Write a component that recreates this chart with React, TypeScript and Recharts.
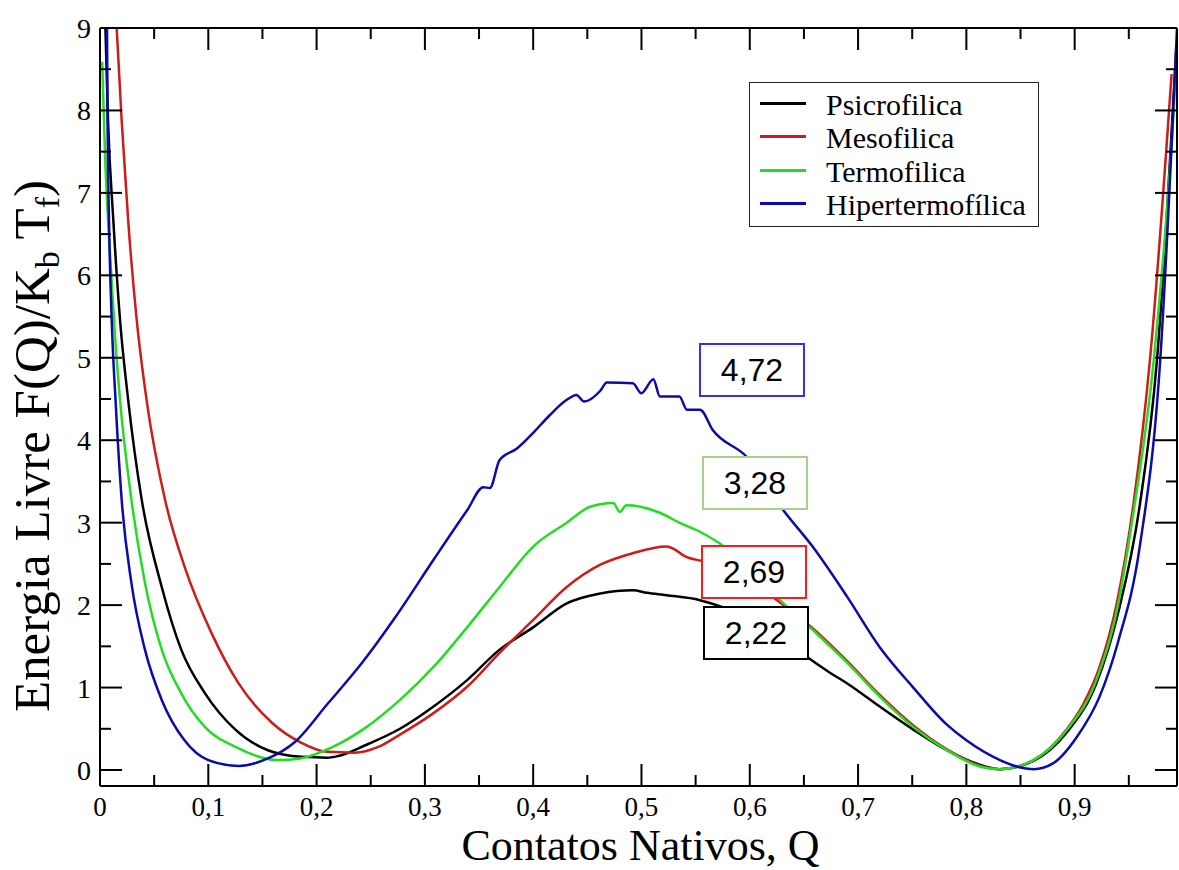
import React from 'react';
import { LineChart, Line, XAxis, YAxis } from 'recharts';

// [Q, F(Q)/KbTf]
const psicrofilica = [
  [0.005, 9.0], [0.0074, 7.88], [0.0123, 6.67], [0.0185, 5.46], [0.026, 4.49], [0.0385, 3.28],
  [0.057, 2.22], [0.075, 1.46], [0.097, 0.93], [0.125, 0.49], [0.155, 0.24], [0.186, 0.16],
  [0.21, 0.15], [0.22, 0.17], [0.245, 0.3], [0.277, 0.5], [0.308, 0.77], [0.339, 1.09],
  [0.369, 1.46], [0.4, 1.73], [0.431, 2.02], [0.462, 2.14], [0.492, 2.18], [0.505, 2.15],
  [0.523, 2.12], [0.554, 2.06], [0.58, 1.95], [0.62, 1.7], [0.653, 1.37], [0.674, 1.18],
  [0.69, 1.05], [0.72, 0.77], [0.751, 0.49], [0.782, 0.24], [0.813, 0.06], [0.831, 0.01],
  [0.862, 0.11], [0.893, 0.46], [0.92, 1.05], [0.94, 1.9], [0.96, 3.2], [0.976, 4.97], [0.994, 8.8],
];

const mesofilica = [
  [0.0154, 9.0], [0.02, 7.88], [0.026, 6.67], [0.0339, 5.46], [0.043, 4.49], [0.06, 3.28],
  [0.078, 2.47], [0.103, 1.66], [0.128, 1.05], [0.159, 0.57], [0.186, 0.33], [0.21, 0.22],
  [0.235, 0.21], [0.257, 0.28], [0.277, 0.43], [0.308, 0.69],
  [0.339, 1.01], [0.369, 1.42], [0.4, 1.82], [0.431, 2.22], [0.462, 2.49], [0.492, 2.63],
  [0.523, 2.71], [0.53, 2.68], [0.539, 2.6], [0.56, 2.52], [0.58, 2.4], [0.6, 2.28],
  [0.621, 2.1], [0.658, 1.72], [0.69, 1.32], [0.72, 0.91], [0.751, 0.54], [0.782, 0.25],
  [0.813, 0.05], [0.831, 0.01], [0.862, 0.12], [0.893, 0.5], [0.908, 0.8], [0.923, 1.25],
  [0.939, 2.03], [0.954, 3.2], [0.9695, 4.97], [0.9895, 8.44],
];

const termofilica = [
  [0.002, 8.59], [0.0046, 7.48], [0.0092, 6.27], [0.0139, 5.26], [0.0185, 4.49], [0.029, 3.28],
  [0.0415, 2.27], [0.057, 1.46], [0.075, 0.93], [0.097, 0.52], [0.125, 0.28], [0.165, 0.12],
  [0.185, 0.14], [0.215, 0.28], [0.246, 0.52],
  [0.277, 0.85], [0.308, 1.25], [0.339, 1.73], [0.369, 2.22], [0.4, 2.71], [0.431, 3.0],
  [0.452, 3.19], [0.474, 3.24], [0.48, 3.13], [0.486, 3.21], [0.517, 3.12], [0.535, 3.0],
  [0.554, 2.89], [0.572, 2.75], [0.6, 2.45], [0.628, 2.06], [0.658, 1.7], [0.69, 1.3],
  [0.72, 0.89], [0.751, 0.52], [0.782, 0.24], [0.813, 0.04], [0.831, 0.01], [0.862, 0.12],
  [0.893, 0.49], [0.92, 1.09], [0.94, 2.0], [0.954, 3.1], [0.973, 4.97], [0.991, 7.9], [0.994, 8.6],
];

const hipertermofilica = [
  [0.0065, 9.0], [0.007, 7.88], [0.0083, 6.67], [0.0108, 5.46], [0.0145, 4.45], [0.02, 3.28],
  [0.029, 2.27], [0.0415, 1.46], [0.057, 0.85], [0.078, 0.36], [0.1, 0.12], [0.128, 0.05],
  [0.155, 0.14], [0.18, 0.34], [0.21, 0.8], [0.242, 1.3], [0.272, 1.84], [0.308, 2.55],
  [0.339, 3.15], [0.354, 3.43], [0.36, 3.42], [0.369, 3.76], [0.385, 3.9], [0.4, 4.09],
  [0.415, 4.3], [0.431, 4.49], [0.44, 4.55], [0.447, 4.47], [0.462, 4.6], [0.468, 4.7],
  [0.492, 4.69], [0.5, 4.57], [0.511, 4.74], [0.517, 4.53], [0.535, 4.53], [0.542, 4.37],
  [0.554, 4.37], [0.566, 4.12], [0.597, 3.8], [0.631, 3.15], [0.658, 2.71], [0.69, 2.1],
  [0.72, 1.49], [0.751, 1.0], [0.782, 0.55], [0.8, 0.36], [0.831, 0.12], [0.85, 0.03],
  [0.862, 0.01], [0.88, 0.08], [0.902, 0.4], [0.923, 0.89], [0.94, 1.55], [0.96, 2.7],
  [0.979, 4.97], [0.9945, 9.0],
];

const seriesNames = ['Psicrofilica', 'Mesofilica', 'Termofilica', 'Hipertermofílica'];
const seriesColors = ['#000000', '#cc1c1c', '#22dd22', '#0b0baa'];
const seriesPoints = [psicrofilica, mesofilica, termofilica, hipertermofilica];

const barrierLabels = ['4,72', '3,28', '2,69', '2,22'];

const xTicks = [0, 0.05, 0.1, 0.15, 0.2, 0.25, 0.3, 0.35, 0.4, 0.45, 0.5, 0.55, 0.6, 0.65, 0.7, 0.75, 0.8, 0.85, 0.9, 0.95];
const yTicks = [0, 0.5, 1, 1.5, 2, 2.5, 3, 3.5, 4, 4.5, 5, 5.5, 6, 6.5, 7, 7.5, 8, 8.5, 9];

const serif = "'Liberation Serif', 'Times New Roman', serif";
const sans = "'Liberation Sans', Arial, sans-serif";

const isMajorX = (v: number) => Math.round(v * 100) % 10 === 0;
const isMajorY = (v: number) => Number.isInteger(v);
const fmtX = (v: number) => (v === 0 ? '0' : v.toFixed(1).replace('.', ','));

const BottomTick = ({ x, y, payload }: any) => {
  const major = isMajorX(payload.value);
  return (
    <g>
      <line x1={x} x2={x} y1={y} y2={y - (major ? 22 : 11)} stroke="#000" strokeWidth={2} />
      {major && (
        <text x={x} y={y + 30} textAnchor="middle" fontSize={27} fontFamily={serif} fill="#000">
          {fmtX(payload.value)}
        </text>
      )}
    </g>
  );
};

const TopTick = ({ x, y, payload }: any) => {
  const major = isMajorX(payload.value);
  return <line x1={x} x2={x} y1={y} y2={y + (major ? 22 : 11)} stroke="#000" strokeWidth={2} />;
};

const LeftTick = ({ x, y, payload }: any) => {
  const major = isMajorY(payload.value);
  return (
    <g>
      <line x1={x} x2={x + (major ? 22 : 11)} y1={y} y2={y} stroke="#000" strokeWidth={2} />
      {major && (
        <text x={x - 9} y={y + 10} textAnchor="end" fontSize={28} fontFamily={serif} fill="#000">
          {payload.value}
        </text>
      )}
    </g>
  );
};

const RightTick = ({ x, y, payload }: any) => {
  const major = isMajorY(payload.value);
  return <line x1={x} x2={x - (major ? 22 : 11)} y1={y} y2={y} stroke="#000" strokeWidth={2} />;
};

const boxBorders = ['#3434e6', '#a8d08d', '#ff1a1a', '#000000'];
const boxTops = [343, 456, 545, 606];
const boxLefts = [699, 702, 701, 703];

export default function App() {
  const axisLine = { stroke: '#000', strokeWidth: 2 };
  return (
    <div style={{ position: 'absolute', left: 0, top: 0, width: 1179, height: 870, background: '#fff', overflow: 'hidden' }}>
      <LineChart width={1179} height={870} margin={{ top: 0, right: 0, bottom: 0, left: 0 }}>
        <XAxis
          type="number"
          dataKey="q"
          domain={[0, 0.9945]}
          allowDataOverflow
          ticks={xTicks}
          interval={0}
          height={84}
          tickSize={0}
          tickMargin={0}
          axisLine={axisLine}
          tick={BottomTick}
          label={{
            content: ({ viewBox }: any) => (
              <text x={viewBox.x + viewBox.width / 2 + 2} y={viewBox.y + 74} textAnchor="middle" fontSize={44} fontFamily={serif} fill="#000">
                Contatos Nativos, Q
              </text>
            ),
          }}
        />
        <XAxis
          xAxisId="top"
          orientation="top"
          type="number"
          dataKey="q"
          domain={[0, 0.9945]}
          allowDataOverflow
          ticks={xTicks}
          interval={0}
          height={28}
          tickSize={0}
          tickMargin={0}
          axisLine={axisLine}
          tick={TopTick}
        />
        <YAxis
          type="number"
          domain={[-0.194, 9]}
          allowDataOverflow
          ticks={yTicks}
          interval={0}
          width={100}
          tickSize={0}
          tickMargin={0}
          axisLine={axisLine}
          tick={LeftTick}
          label={{
            content: () => (
              <text x={49} y={446} transform="rotate(-90 49 446)" textAnchor="middle" fontSize={51} fontFamily={serif} fill="#000">
                Energia Livre F(Q)/K
                <tspan fontSize={34} dy={10}>b</tspan>
                <tspan dy={-10}> T</tspan>
                <tspan fontSize={34} dy={10}>f</tspan>
                <tspan dy={-10}>)</tspan>
              </text>
            ),
          }}
        />
        <YAxis
          yAxisId="right"
          orientation="right"
          type="number"
          domain={[-0.194, 9]}
          allowDataOverflow
          ticks={yTicks}
          interval={0}
          width={2}
          tickSize={0}
          tickMargin={0}
          axisLine={axisLine}
          tick={RightTick}
        />
        {seriesNames.map((name, i) => (
          <Line
            key={name}
            name={name}
            data={seriesPoints[i].map(([q, f]) => ({ q, f }))}
            dataKey="f"
            type="monotoneX"
            stroke={seriesColors[i]}
            strokeWidth={2.5}
            dot={false}
            activeDot={false}
            isAnimationActive={false}
          />
        ))}
      </LineChart>

      <div
        style={{
          position: 'absolute', left: 749, top: 82, width: 290, height: 145,
          border: '1.5px solid #222', background: '#fff', boxSizing: 'border-box',
          fontFamily: serif, fontSize: 30, color: '#000',
        }}
      >
        {seriesNames.map((name, i) => (
          <div key={name} style={{ position: 'absolute', left: 0, top: 5 + i * 33.3, height: 33, lineHeight: '33px', whiteSpace: 'nowrap' }}>
            <span style={{ position: 'absolute', left: 10, top: 14, width: 46, height: 3, background: seriesColors[i] }} />
            <span style={{ position: 'absolute', left: 76 }}>{name}</span>
          </div>
        ))}
      </div>

      {barrierLabels.map((label, i) => (
        <div
          key={label}
          style={{
            position: 'absolute', left: boxLefts[i], top: boxTops[i], width: 106, height: 54,
            border: `2px solid ${boxBorders[i]}`, background: '#fff', boxSizing: 'border-box',
            fontFamily: sans, fontSize: 32, lineHeight: '50px', textAlign: 'center', color: '#000',
          }}
        >
          {label}
        </div>
      ))}
    </div>
  );
}
